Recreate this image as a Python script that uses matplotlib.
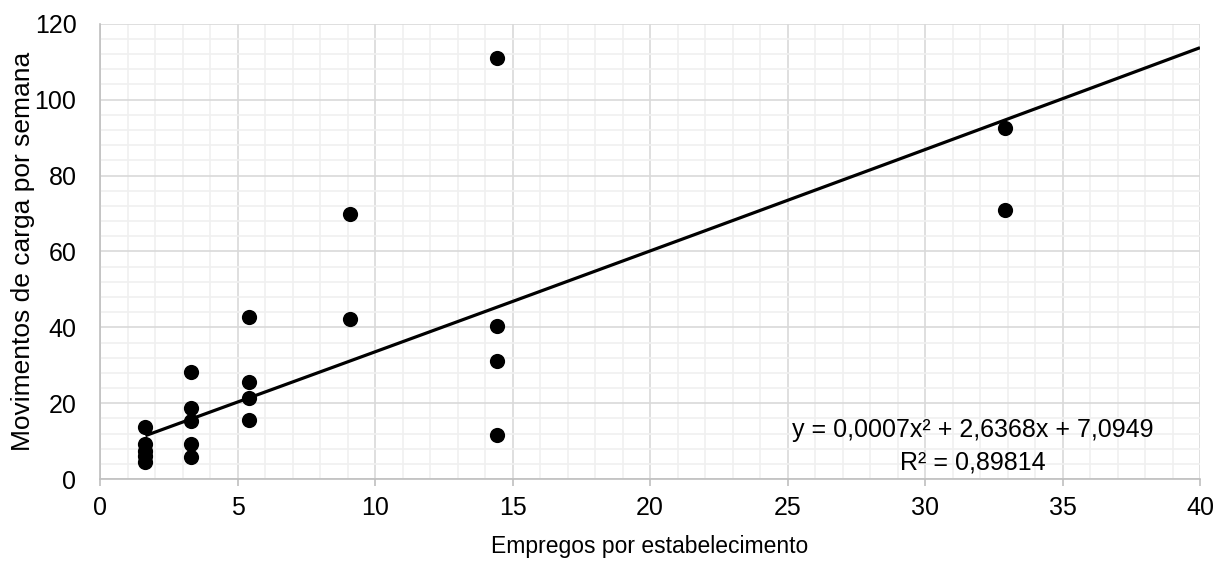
import numpy as np
import matplotlib
matplotlib.use("Agg")
import matplotlib.pyplot as plt
from matplotlib.ticker import MultipleLocator

plt.rcParams['font.family'] = ['Liberation Sans', 'DejaVu Sans']

# Observed establishments: employees per establishment vs weekly freight movements
empregos = [1.65, 1.65, 1.65, 1.65, 1.65,
            3.3, 3.3, 3.3, 3.3, 3.3,
            5.4, 5.4, 5.4, 5.4,
            9.1, 9.1,
            14.45, 14.45, 14.45, 14.45,
            32.9, 32.9]
movimentos = [13.8, 9.2, 7.5, 6.0, 4.6,
              28.1, 18.8, 15.2, 9.3, 5.7,
              42.6, 25.5, 21.5, 15.6,
              69.8, 42.1,
              111.0, 40.4, 31.2, 11.5,
              92.4, 71.0]

# Second-order polynomial trend coefficients
coef_a = 0.0007
coef_b = 2.6368
coef_c = 7.0949
r2 = 0.89814

fig = plt.figure(figsize=(12.27, 5.65), dpi=100)
ax = fig.add_axes([0.0815, 0.152, 0.8965, 0.806])

ax.set_xlim(0, 40)
ax.set_ylim(0, 120)
ax.xaxis.set_major_locator(MultipleLocator(5))
ax.xaxis.set_minor_locator(MultipleLocator(1))
ax.yaxis.set_major_locator(MultipleLocator(20))
ax.yaxis.set_minor_locator(MultipleLocator(4))

ax.grid(which='minor', color='#f0f0f0', linewidth=1.2, zorder=0)
ax.grid(which='major', color='#d9d9d9', linewidth=1.2, zorder=0)
ax.set_axisbelow(True)

for side in ('top', 'right'):
    ax.spines[side].set_visible(False)
for side in ('left', 'bottom'):
    ax.spines[side].set_color('#bfbfbf')
    ax.spines[side].set_linewidth(1.2)

ax.tick_params(axis='x', which='major', length=5, color='#bfbfbf', width=1.2,
               labelsize=18, pad=7)
ax.tick_params(axis='y', which='major', length=0, labelsize=18, pad=17)
ax.tick_params(which='minor', length=0)

ax.scatter(empregos, movimentos, s=120, color='black', zorder=3, linewidths=0)

xt = np.linspace(min(empregos), 40, 200)
yt = coef_a * xt**2 + coef_b * xt + coef_c
ax.plot(xt, yt, color='black', linewidth=2.3, zorder=4, solid_capstyle='butt')

eq_line = (f"y = {coef_a:.4f}x\u00b2 + {coef_b:.4f}x + {coef_c:.4f}").replace('.', ',')
r2_line = f"R\u00b2 = {r2:.5f}".replace('.', ',')
ax.text(31.75, 13.0, eq_line, ha='center', va='center', fontsize=18, zorder=5)
ax.text(31.75, 4.3, r2_line, ha='center', va='center', fontsize=18, zorder=5)

ax.set_xlabel("Empregos por estabelecimento", fontsize=16.5, labelpad=11)
ax.set_ylabel("Movimentos de carga por semana", fontsize=19, labelpad=0)

fig.savefig("out.png", dpi=100)
